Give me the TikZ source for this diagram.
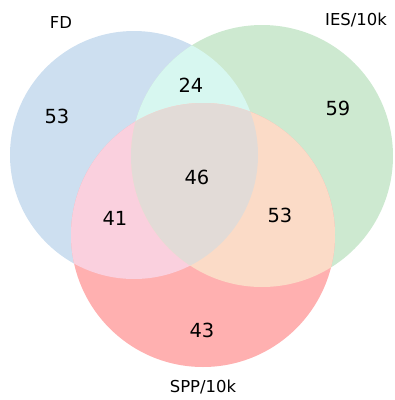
\documentclass[tikz,border=0pt]{standalone}
\usepackage{fontspec}
\setmainfont{DejaVu Sans}
\definecolor{cFD}{HTML}{CDDFF0}
\definecolor{cIES}{HTML}{CDE9D0}
\definecolor{cSPP}{HTML}{FFB0B0}
\definecolor{cFI}{HTML}{D7F7F0}
\definecolor{cFS}{HTML}{FAD0DE}
\definecolor{cIS}{HTML}{FBDBC7}
\definecolor{cAll}{HTML}{E2DBD7}
\tikzset{
  num/.style={font=\fontsize{19.5}{22}\selectfont, inner sep=0pt},
  setlabel/.style={font=\fontsize{16.5}{19}\selectfont, inner sep=0pt},
}
\def\cFD{(134,155) circle[radius=124]}
\def\cIES{(262,156) circle[radius=131]}
\def\cSPP{(203,235) circle[radius=132]}
\begin{document}
\begin{tikzpicture}[x=1bp,y=-1bp]
\useasboundingbox (0,0) rectangle (395,400);
\fill[cFD] \cFD;
\fill[cIES] \cIES;
\fill[cSPP] \cSPP;
\begin{scope}\clip \cFD; \fill[cFI] \cIES; \end{scope}
\begin{scope}\clip \cFD; \fill[cFS] \cSPP; \end{scope}
\begin{scope}\clip \cIES; \fill[cIS] \cSPP; \end{scope}
\begin{scope}\clip \cFD; \clip \cIES; \fill[cAll] \cSPP; \end{scope}
\node[setlabel] (lFD) at (61,23) {FD};
\node[setlabel] (lIES) at (356,20) {IES/10k};
\node[setlabel] (lSPP) at (203,387) {SPP/10k};
\node[num] (n100) at (57,116) {53};
\node[num] (n110) at (191,85) {24};
\node[num] (n010) at (338,108) {59};
\node[num] (n111) at (197,177) {46};
\node[num] (n101) at (115,218) {41};
\node[num] (n011) at (280,215) {53};
\node[num] (n001) at (202,330) {43};
\end{tikzpicture}
\end{document}
